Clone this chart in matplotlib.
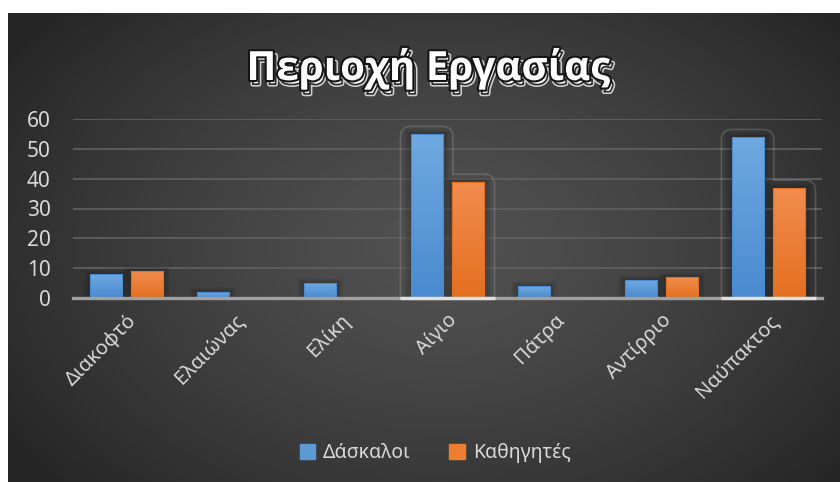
import matplotlib.pyplot as plt
import matplotlib.patheffects as pe
from matplotlib.path import Path
from matplotlib.patches import PathPatch, Rectangle
import numpy as np

plt.rcParams['font.family'] = ['Noto Sans', 'DejaVu Sans']

# Δεδομένα
perioxes = ['Διακοφτό', 'Ελαιώνας', 'Ελίκη', 'Αίγιο', 'Πάτρα', 'Αντίρριο', 'Ναύπακτος']
daskaloi = [8, 2, 5, 55, 4, 6, 54]
kathigites = [9, 0, 0, 39, 0, 7, 37]
titlos = 'Περιοχή Εργασίας'
seires = ['Δάσκαλοι', 'Καθηγητές']

W, H = 840, 482
fig = plt.figure(figsize=(W / 100, H / 100), dpi=100, facecolor='white')

# σκούρο φόντο με ακτινική διαβάθμιση
bg = fig.add_axes([8 / W, 0, 1 - 8 / W, 1 - 13 / H])
yy, xx = np.mgrid[0:1:300j, 0:1:500j]
r = np.sqrt(((xx - 0.52) / 0.62) ** 2 + ((yy - 0.5) / 0.75) ** 2)
r = np.clip(r, 0, 1)
v = 0.32 - 0.17 * r ** 1.3
bg.imshow(np.dstack([v, v, v]), extent=[0, 1, 0, 1], aspect='auto', origin='lower')
bg.set_axis_off()

ax = fig.add_axes([73 / W, 1 - 298 / H, (822 - 73) / W, (298 - 119) / H])
ax.set_facecolor('none')

x = np.arange(len(perioxes))
bw = 0.3
off = 0.19


def grad_bar(xc, h, c_top, c_bot):
    if h <= 0:
        return
    # απαλή σκιά γύρω από τη στήλη
    for k in np.linspace(0.012, 0.07, 6):
        ax.add_patch(Rectangle((xc - bw / 2 - k, 0), bw + 2 * k, h + k * 22,
                               color='black', alpha=0.035, lw=0, zorder=2))
    rect = Rectangle((xc - bw / 2, 0), bw, h, facecolor='none',
                     edgecolor=c_bot, lw=0.8, zorder=4)
    ax.add_patch(rect)
    g = np.linspace(0, 1, 50)[:, None]
    ct = np.array(plt.matplotlib.colors.to_rgb(c_top))
    cb = np.array(plt.matplotlib.colors.to_rgb(c_bot))
    img = cb[None, None, :] * (1 - g[..., None]) + ct[None, None, :] * g[..., None]
    im = ax.imshow(img, extent=[xc - bw / 2, xc + bw / 2, 0, h], origin='lower',
                   aspect='auto', zorder=3)
    im.set_clip_path(rect)


for i in range(len(perioxes)):
    grad_bar(x[i] - off, daskaloi[i], '#6fa9e0', '#4a8ad0')
    grad_bar(x[i] + off, kathigites[i], '#f28c4f', '#e4701f')
ax.set_xlim(-0.5, len(perioxes) - 0.5)
ax.set_ylim(0, 60)


# περίγραμμα επιλογής γύρω από τις μεγάλες ομάδες
def outline(i):
    x0 = x[i] - off - bw / 2 - 0.1
    xm = x[i] + off - bw / 2 + 0.01
    x1 = x[i] + off + bw / 2 + 0.1
    y0 = daskaloi[i] + 2.5
    y1 = kathigites[i] + 2.5
    rx, ry = 0.1, 3.4
    verts = [(x0, 0), (x0, y0 - ry), (x0, y0), (x0 + rx, y0),
             (xm - rx, y0), (xm, y0), (xm, y0 - ry),
             (xm, y1), (x1 - rx, y1), (x1, y1), (x1, y1 - ry), (x1, 0)]
    codes = [Path.MOVETO, Path.LINETO, Path.CURVE3, Path.CURVE3,
             Path.LINETO, Path.CURVE3, Path.CURVE3,
             Path.LINETO, Path.LINETO, Path.CURVE3, Path.CURVE3, Path.LINETO]
    ax.add_patch(PathPatch(Path(verts, codes), fill=False, ec='#a8a8a8',
                           alpha=0.3, lw=1.1, zorder=5, clip_on=False))
    ax.plot([x0, x1], [0, 0], color='#e0e0e0', lw=2.4, zorder=6,
            solid_capstyle='butt', clip_on=False)


outline(3)
outline(6)

ax.set_yticks(range(0, 61, 10))
ax.grid(axis='y', color='#5e5e5e', lw=1.3, zorder=1)
ax.set_axisbelow(True)
for s in ['top', 'right', 'left']:
    ax.spines[s].set_visible(False)
ax.spines['bottom'].set_color('#a0a0a0')
ax.spines['bottom'].set_linewidth(2.4)
ax.spines['bottom'].set_zorder(5)

ax.set_xticks(x)
ax.set_xticklabels(perioxes, rotation=45, ha='right', rotation_mode='anchor',
                   fontsize=14.5, color='#d9d9d9')
ax.tick_params(axis='x', length=0, pad=9)
ax.tick_params(axis='y', length=0, pad=16, labelsize=15, labelcolor='#d9d9d9')

t = fig.text(428 / W, 1 - 80 / H, titlos, ha='center', va='baseline',
             fontsize=29, fontweight='bold', color='white',
             family=['Open Sans', 'DejaVu Sans'])
t.set_path_effects([
    pe.Stroke(offset=(2, -3), linewidth=3.5, foreground='#cfcfcf'),
    pe.Stroke(offset=(2, -3), linewidth=1.2, foreground='#2a2a2a'),
    pe.Stroke(linewidth=3, foreground='#151515'),
    pe.Normal(),
])

handles = [Rectangle((0, 0), 1, 1, color='#5b9bd5'),
           Rectangle((0, 0), 1, 1, color='#ed7d31')]
leg = fig.legend(handles, seires, loc='center', bbox_to_anchor=(435 / W, 1 - 453 / H),
                 ncol=2, frameon=False, fontsize=14, handlelength=0.8,
                 handleheight=0.8, handletextpad=0.4, columnspacing=2.0)
for tx in leg.get_texts():
    tx.set_color('#d9d9d9')

fig.savefig('out.png', dpi=100)
